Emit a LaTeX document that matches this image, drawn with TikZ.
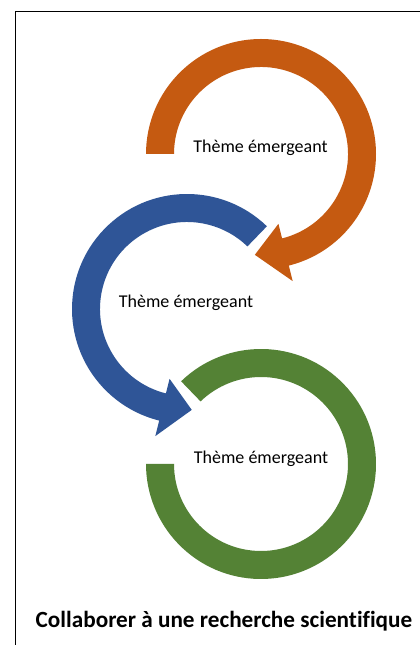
\documentclass[tikz,border=0pt]{standalone}
\usepackage{fontspec}
\setmainfont{Carlito}[Ligatures=NoCommon]
\definecolor{orangeC}{HTML}{C55A11}
\definecolor{blueC}{HTML}{2F5597}
\definecolor{greenC}{HTML}{548235}
\begin{document}
\begin{tikzpicture}[x=1pt,y=1pt,
  theme/.style={anchor=base,inner sep=0pt,font=\fontsize{18}{20}\selectfont},
  titletext/.style={anchor=base,inner sep=0pt,font=\fontsize{23.2}{26}\selectfont\bfseries},
  frameline/.style={draw=black,line width=1.6pt}]
\useasboundingbox (0,0) rectangle (420,645);
\fill[white] (0,0) rectangle (420,645);
\draw[frameline] (15.5,0) -- (15.5,633.5) -- (420,633.5);
% orange arc
\begin{scope}[shift={(261,491)}]
\fill[orangeC] (180:115) arc[start angle=180,end angle=-76,radius=115] -- (-76:131) -- (-93.5:101) -- (-76:72) -- (-76:87) arc[start angle=-76,end angle=180,radius=87] -- cycle;
\end{scope}
% blue arc
\begin{scope}[shift={(187,336)}]
\fill[blueC] (46:115) arc[start angle=46,end angle=256,radius=115] -- (256:131) -- (272.7:101) -- (256:72) -- (256:87) arc[start angle=256,end angle=46,radius=87] -- cycle;
\end{scope}
% green arc
\begin{scope}[shift={(261,181)}]
\fill[greenC] (134:115) arc[start angle=134,end angle=-180,radius=115] -- (180:87) arc[start angle=-180,end angle=134,radius=87] -- cycle;
\end{scope}
\node[theme] (t1) at (260.5,492) {Thème émergeant};
\node[theme] (t2) at (186,337.5) {Thème émergeant};
\node[theme] (t3) at (261,181.5) {Thème émergeant};
\node[titletext] (title) at (224,17) {Collaborer à une recherche scientifique};
\end{tikzpicture}
\end{document}
